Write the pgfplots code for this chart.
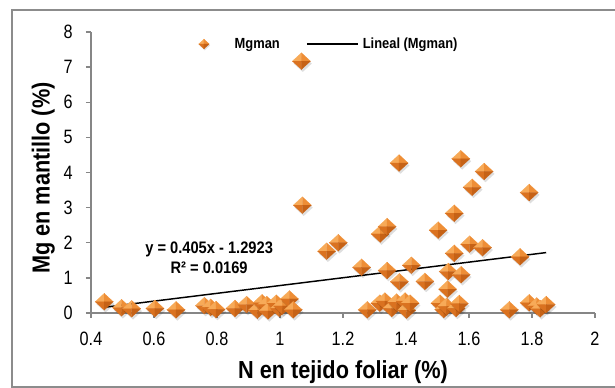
\documentclass[border=0pt]{standalone}
\usepackage{fontspec}
\usepackage{pgfplots}
\pgfplotsset{compat=1.18}
\newfontfamily\ticfont{Liberation Sans}[FakeStretch=0.84]
\newfontfamily\labfont{Liberation Sans}[FakeStretch=0.88]
\definecolor{frameg}{RGB}{140,140,140}
\definecolor{axg}{RGB}{134,134,134}
\definecolor{dlt}{RGB}{247,170,88}
\definecolor{dmd}{RGB}{238,142,54}
\definecolor{ddk}{RGB}{218,114,32}
\definecolor{ddd}{RGB}{198,98,22}

\newcommand{\tri}[7]{%
  \pgfpathmoveto{\pgfqpoint{#1}{#2}}\pgfpathlineto{\pgfqpoint{#3}{#4}}\pgfpathlineto{\pgfqpoint{#5}{#6}}\pgfpathclose
  \pgfsetfillcolor{#7}\pgfsetstrokecolor{#7}\pgfusepath{fill,stroke}}
\pgfdeclareplotmark{odiam}{%
  \begin{pgfscope}
  \pgfsetlinewidth{0.15pt}
  \pgfsetfillopacity{0.13}\pgfsetstrokeopacity{0}\pgfsetfillcolor{black}
  \pgfpathmoveto{\pgfqpoint{-5.8pt}{-1.8pt}}\pgfpathlineto{\pgfqpoint{1pt}{4.3pt}}%
  \pgfpathlineto{\pgfqpoint{7.8pt}{-1.8pt}}\pgfpathlineto{\pgfqpoint{1pt}{-8.1pt}}\pgfpathclose
  \pgfusepath{fill}
  \end{pgfscope}
  \begin{pgfscope}
  \pgfsetlinewidth{0.15pt}
  \tri{-6.8pt}{0pt}{0pt}{6.3pt}{0pt}{0pt}{dlt}
  \tri{0pt}{6.3pt}{6.8pt}{0pt}{0pt}{0pt}{dmd}
  \tri{-6.8pt}{0pt}{0pt}{-6.3pt}{0pt}{0pt}{ddk}
  \tri{0pt}{-6.3pt}{6.8pt}{0pt}{0pt}{0pt}{ddd}
  \end{pgfscope}
}

\pgfplotstableread{
x y
0.442 0.32
0.497 0.15
0.529 0.12
0.603 0.13
0.670 0.09
0.760 0.21
0.780 0.16
0.797 0.10
0.857 0.13
0.894 0.24
0.928 0.08
0.943 0.29
0.958 0.24
0.962 0.06
0.988 0.28
0.998 0.13
1.008 0.20
1.030 0.40
1.042 0.09
1.068 7.17
1.071 3.07
1.148 1.76
1.185 2.00
1.259 1.30
1.277 0.09
1.318 2.25
1.340 2.46
1.317 0.28
1.333 0.34
1.340 1.21
1.355 0.13
1.370 0.31
1.378 4.27
1.379 0.89
1.397 0.34
1.402 0.08
1.413 0.28
1.417 1.36
1.460 0.90
1.502 2.36
1.508 0.28
1.520 0.10
1.529 0.19
1.532 0.68
1.534 1.18
1.553 2.84
1.553 1.70
1.559 0.13
1.569 0.27
1.574 4.39
1.575 1.09
1.602 1.96
1.610 3.58
1.643 1.86
1.648 4.03
1.728 0.09
1.762 1.60
1.791 3.43
1.791 0.29
1.815 0.20
1.826 0.12
1.845 0.24
}\mgdata

\begin{document}
\begin{tikzpicture}
\begin{axis}[
  scale only axis, width=378pt, height=210.75pt,
  xmin=0.4, xmax=2, ymin=0, ymax=8,
  xtick={0.4,0.6,0.8,1,1.2,1.4,1.6,1.8,2},
  xticklabels={0.4,0.6,0.8,1,1.2,1.4,1.6,1.8,2},
  ytick={0,1,2,3,4,5,6,7,8},
  yticklabels={0,1,2,3,4,5,6,7,8},
  axis lines*=left,
  axis line style={axg, line width=1pt},
  tick style={axg, line width=1pt},
  tick align=outside, major tick length=3.75pt,
  clip=false,
  xticklabel style={font=\ticfont\fontsize{14.5}{15}\selectfont, inner sep=0pt, anchor=north, yshift=-10.5pt},
  yticklabel style={font=\ticfont\fontsize{14.5}{15}\selectfont, inner sep=0pt, anchor=east, xshift=-9.75pt},
  xlabel={N en tejido foliar (\%)},
  ylabel={Mg en mantillo (\%)},
  xlabel style={font=\labfont\bfseries\fontsize{18.5}{20}\selectfont, at={(axis description cs:0.5,0)}, anchor=base, yshift=-49.5pt, inner sep=0pt},
  ylabel style={font=\labfont\bfseries\fontsize{18.5}{20}\selectfont, at={(axis description cs:-0.082,0.48)}, anchor=base, inner sep=0pt},
  legend columns=2,
  legend style={at={(axis cs:0.7248,7.658)}, anchor=west, draw=none, fill=none, inner sep=0pt, outer sep=0pt,
    font=\labfont\bfseries\fontsize{11}{12}\selectfont, nodes={inner sep=0pt}, column sep=0pt, cells={anchor=west}},
]
\addplot[only marks, mark=odiam,
  legend image code/.code={\path[draw=none,fill=none] (-8pt,-4pt) rectangle (23pt,4pt);
    \begin{scope}[scale=0.58]\pgfuseplotmark{odiam}\end{scope}}]
  table[x=x,y=y] {\mgdata};
\addlegendentry{Mgman}
\addplot[black, line width=1.1pt, no marks,
  legend image code/.code={\path[draw=none,fill=none] (0pt,-4pt) rectangle (62.25pt,4pt);
    \draw[black, line width=1.1pt] (20.25pt,0pt) -- (58.5pt,0pt);}]
  coordinates {(0.44,0.16) (1.845,1.72)};
\addlegendentry{Lineal (Mgman)}
\node[font=\labfont\bfseries\fontsize{12.5}{15}\selectfont, align=center] at (axis cs:0.775,1.57)
  {y = 0.405x - 1.2923\\R² = 0.0169};
\end{axis}
\draw[frameg, line width=1.5pt] (393pt,227.25pt) -- (-59.25pt,227.25pt) -- (-59.25pt,-55.5pt) -- (393pt,-55.5pt);
\pgfresetboundingbox
\path[use as bounding box] (-68.25pt,-56.25pt) rectangle (393pt,234.75pt);
\end{tikzpicture}
\end{document}
